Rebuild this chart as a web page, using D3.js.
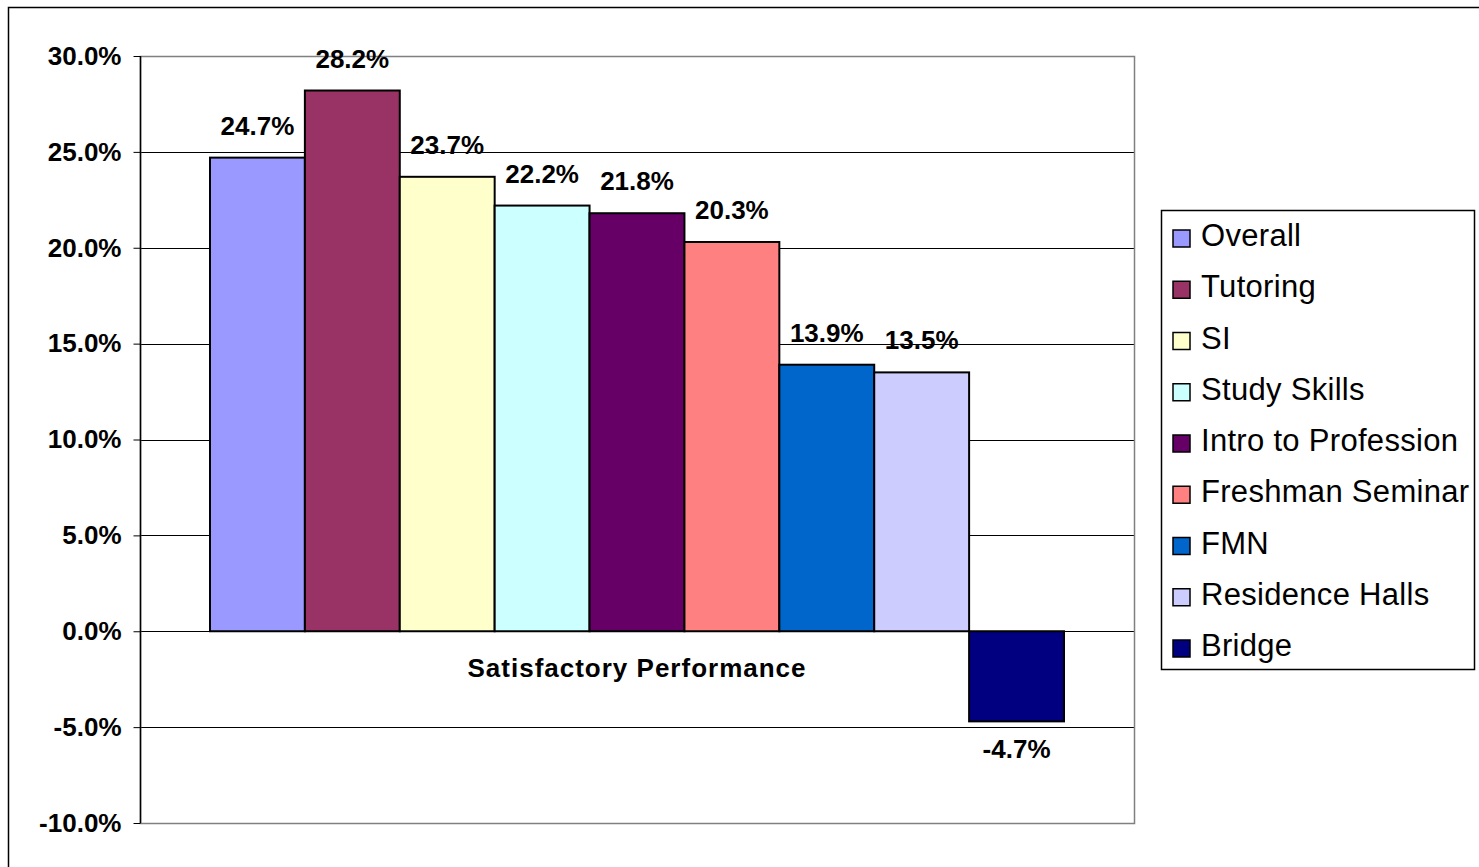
<!DOCTYPE html>
<html>
<head>
<meta charset="utf-8">
<script src="https://cdn.jsdelivr.net/npm/d3@7"></script>
<style>
  html, body { margin: 0; padding: 0; background: #fff; }
  svg { display: block; font-family: "Liberation Sans", Arial, sans-serif; }
</style>
</head>
<body>
<svg id="chart" width="1479" height="867"></svg>
<script>
const categories = ["Overall", "Tutoring", "SI", "Study Skills", "Intro to Profession", "Freshman Seminar", "FMN", "Residence Halls", "Bridge"];
const values = [24.7, 28.2, 23.7, 22.2, 21.8, 20.3, 13.9, 13.5, -4.7];
const colors = ["#9999FF", "#993366", "#FFFFCC", "#CCFFFF", "#660066", "#FF8080", "#0066CC", "#CCCCFF", "#000080"];
const yTicks = [-10, -5, 0, 5, 10, 15, 20, 25, 30];
const groupLabel = "Satisfactory Performance";

const svg = d3.select("#chart");

// outer frame
svg.append("rect").attr("x", 8.5).attr("y", 7.5).attr("width", 1500).attr("height", 900)
  .attr("fill", "none").attr("stroke", "#000").attr("stroke-width", 1.5);

const plot = { left: 140, right: 1134, top: 56, bottom: 823 };

const y = d3.scaleLinear().domain([-10, 30]).range([plot.bottom, plot.top]);
const x = d3.scaleBand().domain(categories).range([210, 1064]).padding(0);

// gridlines
svg.append("g").selectAll("line").data(yTicks.filter(t => t !== 30 && t !== -10)).join("line")
  .attr("x1", plot.left).attr("x2", plot.right)
  .attr("y1", d => Math.round(y(d)) + 0.5).attr("y2", d => Math.round(y(d)) + 0.5)
  .attr("stroke", "#000").attr("stroke-width", 1);

// plot border (gray)
svg.append("rect").attr("x", plot.left + 0.5).attr("y", plot.top + 0.5)
  .attr("width", plot.right - plot.left).attr("height", plot.bottom - plot.top)
  .attr("fill", "none").attr("stroke", "#808080").attr("stroke-width", 1.5);

// bars
svg.append("g").selectAll("rect").data(values).join("rect")
  .attr("x", (d, i) => x(categories[i]))
  .attr("width", x.bandwidth())
  .attr("y", d => y(Math.max(0, d)))
  .attr("height", d => Math.abs(y(d) - y(0)))
  .attr("fill", (d, i) => colors[i])
  .attr("stroke", "#000").attr("stroke-width", 2);

// y axis
const yAxis = d3.axisLeft(y).tickValues(yTicks).tickSize(7).tickPadding(12)
  .tickFormat(d => d.toFixed(1) + "%");
const ag = svg.append("g").attr("transform", `translate(${plot.left + 0.5},0)`).call(yAxis);
ag.select(".domain").attr("stroke", "#000").attr("stroke-width", 1.5).attr("d", `M0,${plot.top}V${plot.bottom}`);
ag.selectAll(".tick line").attr("stroke", "#000");
ag.selectAll(".tick text").attr("font-size", 26).attr("font-weight", "bold")
  .attr("font-family", "'Liberation Sans', Arial, sans-serif").attr("fill", "#000");

// data labels
svg.append("g").selectAll("text").data(values).join("text")
  .attr("x", (d, i) => x(categories[i]) + x.bandwidth() / 2)
  .attr("y", d => d >= 0 ? y(d) - 23 : y(d) + 37)
  .attr("text-anchor", "middle").attr("font-size", 26).attr("font-weight", "bold")
  .text(d => d.toFixed(1) + "%");

// category label
svg.append("text").attr("x", (plot.left + plot.right) / 2).attr("y", 677)
  .attr("text-anchor", "middle").attr("font-size", 26).attr("font-weight", "bold")
  .attr("letter-spacing", 1).text(groupLabel);

// legend
const lg = svg.append("g");
lg.append("rect").attr("x", 1161.5).attr("y", 210.5).attr("width", 313).attr("height", 459)
  .attr("fill", "#fff").attr("stroke", "#000").attr("stroke-width", 1.5);
const items = lg.selectAll("g.item").data(categories).join("g").attr("class", "item")
  .attr("transform", (d, i) => `translate(0,${235 + i * 51.25})`);
items.append("rect").attr("x", 1173).attr("y", -5).attr("width", 17).attr("height", 17)
  .attr("fill", (d, i) => colors[i]).attr("stroke", "#000").attr("stroke-width", 1.5);
items.append("text").attr("x", 1201).attr("y", 11).attr("font-size", 31)
  .attr("letter-spacing", 0.3).text(d => d);
</script>
</body>
</html>
